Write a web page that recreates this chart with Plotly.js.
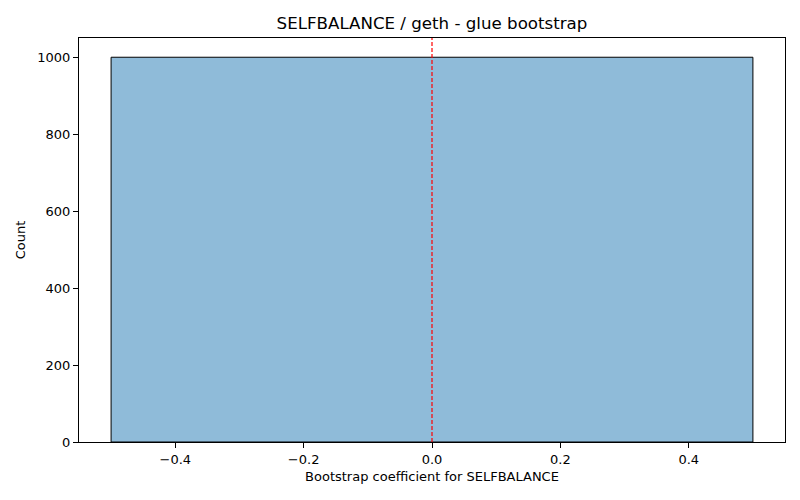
<!DOCTYPE html>
<html>
<head>
<meta charset="utf-8">
<script src="https://cdn.plot.ly/plotly-3.0.1.min.js"></script>
<style>html,body{margin:0;padding:0;background:#fff;}#chart{width:800px;height:500px;}</style>
</head>
<body>
<div id="chart"></div>
<script>
const binLeft = [-0.5];
const binRight = [0.5];
const counts = [1000];
const refLineX = [0.0];
const xTicks = [-0.4, -0.2, 0.0, 0.2, 0.4];
const yTicks = [0, 200, 400, 600, 800, 1000];

const centers = binLeft.map((l, i) => (l + binRight[i]) / 2);
const widths = binLeft.map((l, i) => binRight[i] - l);

const trace = {
  type: 'bar',
  x: centers,
  y: counts,
  width: widths,
  marker: {color: 'rgba(31,119,180,0.5)', line: {color: '#000', width: 1}},
  hoverinfo: 'skip'
};

const axisCommon = {
  showgrid: false,
  zeroline: false,
  showline: true,
  linecolor: '#000',
  linewidth: 1,
  mirror: true,
  ticks: 'outside',
  ticklen: 5,
  tickwidth: 1,
  tickcolor: '#000',
  tickfont: {family: 'DejaVu Sans', size: 13, color: '#000'}
};

const layout = {
  width: 800, height: 500,
  margin: {l: 79, r: 15, t: 38, b: 58},
  paper_bgcolor: '#fff',
  plot_bgcolor: '#fff',
  font: {family: 'DejaVu Sans', color: '#000'},
  title: {text: 'SELFBALANCE / geth - glue bootstrap', font: {family: 'DejaVu Sans', size: 16.67, color: '#000'}, x: 0.54, xanchor: 'center', y: 0.965, yanchor: 'top'},
  xaxis: Object.assign({}, axisCommon, {
    range: [-0.55, 0.55],
    tickvals: xTicks,
    tickformat: '.1f',
    title: {text: 'Bootstrap coefficient for SELFBALANCE', font: {family: 'DejaVu Sans', size: 13, color: '#000'}, standoff: 6}
  }),
  yaxis: Object.assign({}, axisCommon, {
    range: [0, 1050],
    tickvals: yTicks,
    title: {text: 'Count', font: {family: 'DejaVu Sans', size: 13, color: '#000'}, standoff: 8}
  }),
  shapes: refLineX.map(x => ({
    type: 'line', xref: 'x', yref: 'paper', x0: x, x1: x, y0: 0, y1: 1,
    line: {color: '#ff0000', width: 1.2, dash: '4px,2px'}
  })),
  showlegend: false,
  bargap: 0
};

Plotly.newPlot('chart', [trace], layout, {displayModeBar: false, staticPlot: true});
</script>
</body>
</html>
